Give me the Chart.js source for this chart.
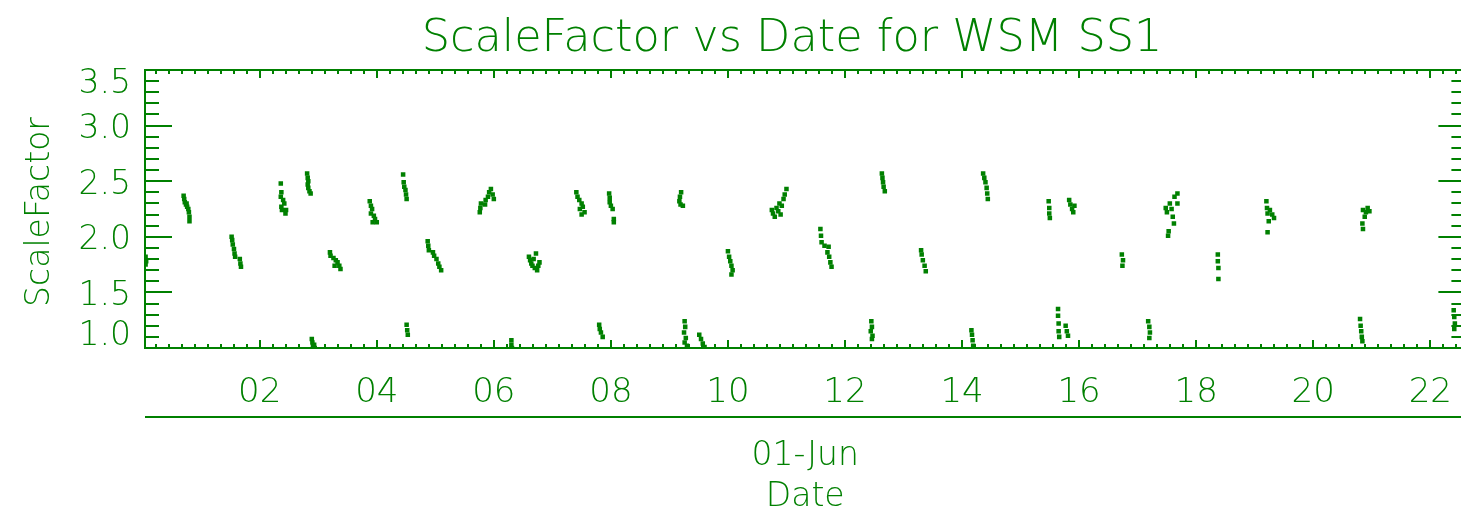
<!DOCTYPE html>
<html>
<head>
<meta charset="utf-8">
<title>ScaleFactor vs Date for WSM SS1</title>
<script src="https://cdn.jsdelivr.net/npm/chart.js@4.4.1/dist/chart.umd.min.js"></script>
<style>
  html, body { margin: 0; padding: 0; background: #ffffff; overflow: hidden; }
  #wrap { width: 1461px; height: 515px; overflow: hidden; position: relative; }
  canvas { display: block; }
</style>
</head>
<body>
<div id="wrap"><canvas id="chart" width="1469" height="515"></canvas></div>
<script>
// Hours of 01-Jun for each sample, one line per pass
const sampleHours = [
    0.05, 0.06, 0.05,
    0.70, 0.71, 0.72, 0.74, 0.75, 0.76, 0.78, 0.79, 0.80, 0.80,
    1.52, 1.53, 1.54, 1.56, 1.57, 1.58, 1.66, 1.67, 1.68,
    2.36, 2.37, 2.36, 2.40, 2.42, 2.37, 2.38, 2.45, 2.44,
    2.81, 2.82, 2.83, 2.82, 2.83, 2.85, 2.87,
    2.89, 2.90, 2.93, 2.91, 2.94,
    3.20, 3.21, 3.26, 3.30, 3.33, 3.36, 3.38, 3.28,
    3.88, 3.90, 3.92, 3.90, 3.95, 3.97, 3.93, 4.00,
    4.45, 4.46, 4.47, 4.49, 4.50, 4.51,
    4.51, 4.52, 4.53,
    4.87, 4.88, 4.89, 4.96, 4.98, 5.02, 5.05, 5.07, 5.10,
    5.76, 5.77, 5.78, 5.85, 5.86, 5.90, 5.92, 5.95, 5.98, 6.00,
    6.30, 6.30, 6.31,
    6.60, 6.62, 6.64, 6.66, 6.70, 6.74, 6.76, 6.78, 6.68, 6.72,
    7.41, 7.43, 7.46, 7.50, 7.52, 7.47, 7.55, 7.50,
    7.80, 7.81, 7.83, 7.86,
    7.97, 7.98, 7.98, 8.00, 8.03, 8.05, 8.05,
    9.20, 9.18, 9.17, 9.19, 9.23,
    9.26, 9.27, 9.25, 9.28, 9.26, 9.30,
    9.51, 9.54, 9.57, 9.60,
    10.00, 10.02, 10.04, 10.06, 10.08, 10.06,
    10.75, 10.77, 10.80, 10.83, 10.86, 10.88, 10.90, 10.92, 10.95, 10.97, 11.00,
    11.58, 11.59, 11.60, 11.65, 11.72, 11.70, 11.73, 11.75, 11.77,
    12.45, 12.46, 12.44, 12.47, 12.46,
    12.63, 12.64, 12.65, 12.66, 12.68,
    13.30, 13.31, 13.33, 13.36, 13.38,
    14.16, 14.17, 14.18, 14.19,
    14.36, 14.38, 14.40, 14.42, 14.43, 14.44,
    15.48, 15.49, 15.49, 15.50,
    15.64, 15.64, 15.65, 15.65, 15.66,
    15.77, 15.79, 15.81,
    15.83, 15.85, 15.88, 15.90, 15.92,
    16.73, 16.75, 16.74,
    17.18, 17.20, 17.21, 17.20,
    17.48, 17.50, 17.52, 17.53, 17.55, 17.58, 17.60, 17.62, 17.63, 17.68, 17.68,
    18.37, 18.37, 18.38, 18.38,
    19.20, 19.21, 19.22, 19.22, 19.24, 19.26, 19.30, 19.33,
    20.80, 20.81, 20.82, 20.83, 20.84,
    20.84, 20.85, 20.85, 20.88, 20.90, 20.93, 20.96,
    22.40, 22.41, 22.42, 22.41
];

const scaleFactor = [
    1.82, 1.78, 1.75,
    2.37, 2.34, 2.31, 2.29, 2.30, 2.27, 2.25, 2.22, 2.18, 2.14,
    2.00, 1.97, 1.93, 1.89, 1.85, 1.82, 1.80, 1.76, 1.73,
    2.48, 2.40, 2.36, 2.33, 2.30, 2.27, 2.24, 2.24, 2.21,
    2.57, 2.53, 2.50, 2.47, 2.44, 2.41, 2.39,
    1.08, 1.05, 1.03, 1.01, 1.00,
    1.86, 1.83, 1.81, 1.79, 1.77, 1.74, 1.71, 1.74,
    2.32, 2.28, 2.25, 2.21, 2.19, 2.16, 2.13, 2.13,
    2.56, 2.49, 2.45, 2.42, 2.38, 2.34,
    1.21, 1.16, 1.12,
    1.96, 1.92, 1.88, 1.86, 1.83, 1.80, 1.76, 1.73, 1.70,
    2.22, 2.26, 2.30, 2.29, 2.33, 2.36, 2.40, 2.43, 2.38, 2.34,
    1.07, 1.03, 1.00,
    1.82, 1.79, 1.76, 1.74, 1.72, 1.70, 1.74, 1.77, 1.80, 1.85,
    2.40, 2.36, 2.33, 2.30, 2.27, 2.25, 2.22, 2.20,
    1.21, 1.17, 1.14, 1.10,
    2.39, 2.35, 2.31, 2.28, 2.25, 2.16, 2.13,
    2.40, 2.36, 2.32, 2.29, 2.28,
    1.24, 1.19, 1.14, 1.09, 1.05, 1.02,
    1.12, 1.08, 1.04, 1.01,
    1.87, 1.82, 1.78, 1.74, 1.70, 1.66,
    2.24, 2.21, 2.18, 2.26, 2.23, 2.30, 2.20, 2.28, 2.34, 2.38, 2.43,
    2.07, 2.01, 1.95, 1.92, 1.91, 1.86, 1.82, 1.77, 1.73,
    1.24, 1.19, 1.15, 1.11, 1.08,
    2.57, 2.53, 2.49, 2.45, 2.41,
    1.88, 1.84, 1.79, 1.74, 1.69,
    1.16, 1.12, 1.07, 1.02,
    2.57, 2.53, 2.49, 2.44, 2.39, 2.34,
    2.32, 2.26, 2.21, 2.17,
    1.35, 1.29, 1.22, 1.15, 1.10,
    1.20, 1.15, 1.11,
    2.33, 2.29, 2.25, 2.22, 2.28,
    1.84, 1.79, 1.74,
    1.24, 1.19, 1.14, 1.09,
    2.26, 2.22, 2.01, 2.05, 2.30, 2.25, 2.18, 2.12, 2.36, 2.39, 2.30,
    1.84, 1.78, 1.72, 1.62,
    2.32, 2.26, 2.21, 2.04, 2.14, 2.24, 2.20, 2.17,
    1.26, 1.20, 1.15, 1.10, 1.06,
    2.12, 2.07, 2.24, 2.18, 2.22, 2.26, 2.23,
    1.34, 1.28, 1.22, 1.17
];

const xTickValues = [2, 4, 6, 8, 10, 12, 14, 16, 18, 20, 22];
const xTickLabels = ['02', '04', '06', '08', '10', '12', '14', '16', '18', '20', '22'];
const yTickValues = [1.0, 1.5, 2.0, 2.5, 3.0, 3.5];
const yTickLabels = ['1.0', '1.5', '2.0', '2.5', '3.0', '3.5'];

const xMin = 0.04, xMax = 22.6;
const yMin = 1.0, yMax = 3.5;
const xMinorPerMajor = 9;
const yMinorStep = 0.1;

const GREEN = '#008000';
const FONT = '"DejaVu Sans", sans-serif';
const WEIGHT = '200 ';

// IDL-style frame: inward ticks on all four sides, y labels and titles
const idlFrame = {
    id: 'idlFrame',
    afterDraw(chart) {
        const ctx = chart.ctx;
        const area = chart.chartArea;
        const xs = chart.scales.x;
        const ys = chart.scales.y;

        ctx.save();
        ctx.strokeStyle = GREEN;
        ctx.fillStyle = GREEN;
        ctx.lineWidth = 2;
        ctx.strokeRect(area.left, area.top, area.right - area.left, area.bottom - area.top);

        ctx.beginPath();
        // y ticks, left and right
        const nY = Math.round((yMax - yMin) / yMinorStep);
        for (let i = 0; i <= nY; i++) {
            const py = Math.round(ys.getPixelForValue(yMin + i * yMinorStep));
            const len = (i % 5 === 0) ? 27 : 14;
            ctx.moveTo(area.left, py);
            ctx.lineTo(area.left + len, py);
            ctx.moveTo(area.right, py);
            ctx.lineTo(area.right - len, py);
        }
        // x ticks, bottom and top
        const step = (xTickValues[1] - xTickValues[0]) / xMinorPerMajor;
        const first = xTickValues[0];
        const kStart = Math.ceil((xMin - first) / step);
        const kEnd = Math.floor((xMax - first) / step);
        for (let k = kStart; k <= kEnd; k++) {
            const px = Math.round(xs.getPixelForValue(first + k * step));
            const len = (k % xMinorPerMajor === 0) ? 8 : 4;
            ctx.moveTo(px, area.bottom);
            ctx.lineTo(px, area.bottom - len);
            ctx.moveTo(px, area.top);
            ctx.lineTo(px, area.top + len);
        }
        ctx.stroke();

        // y tick labels
        ctx.font = WEIGHT + '33px ' + FONT;
        ctx.textAlign = 'right';
        ctx.textBaseline = 'middle';
        yTickValues.forEach((v, i) => {
            let py = ys.getPixelForValue(v) + 4;
            py = Math.max(area.top + 14, Math.min(area.bottom - 12, py));
            ctx.fillText(yTickLabels[i], 131, py);
        });

        // second date level
        ctx.beginPath();
        ctx.moveTo(area.left, 417);
        ctx.lineTo(area.right, 417);
        ctx.stroke();
        const midX = (area.left + area.right) / 2;
        ctx.textAlign = 'center';
        ctx.fillText('01-Jun', midX, 456);
        ctx.fillText('Date', midX, 497);

        // title
        ctx.font = WEIGHT + '44.6px ' + FONT;
        ctx.fillText('ScaleFactor vs Date for WSM SS1', 792, 39);

        // y axis title
        ctx.save();
        ctx.translate(40, 212);
        ctx.rotate(-Math.PI / 2);
        ctx.font = WEIGHT + '33px ' + FONT;
        ctx.fillText('ScaleFactor', 0, 0);
        ctx.restore();

        ctx.restore();
    }
};

const points = sampleHours.map((h, i) => ({ x: h, y: scaleFactor[i] }));

new Chart(document.getElementById('chart'), {
    type: 'scatter',
    data: {
        datasets: [{
            label: 'ScaleFactor',
            data: points,
            pointStyle: 'rect',
            pointRadius: 3.2,
            pointBorderWidth: 0,
            pointBackgroundColor: GREEN,
            pointHoverRadius: 3.2
        }]
    },
    options: {
        responsive: false,
        animation: false,
        devicePixelRatio: 1,
        layout: { padding: { top: 70, right: 1, left: 0, bottom: 0 } },
        plugins: {
            legend: { display: false },
            title: { display: false },
            tooltip: { enabled: false }
        },
        scales: {
            x: {
                type: 'linear',
                min: xMin,
                max: xMax,
                grid: { display: false },
                border: { display: false },
                afterBuildTicks: (scale) => {
                    scale.ticks = xTickValues.map(v => ({ value: v }));
                },
                afterFit: (scale) => { scale.height = 167; },
                ticks: {
                    color: GREEN,
                    padding: 17,
                    maxRotation: 0,
                    autoSkip: false,
                    font: { family: FONT, size: 34, weight: '200' },
                    callback: (value, index) => xTickLabels[index]
                }
            },
            y: {
                type: 'linear',
                min: yMin,
                max: yMax,
                grid: { display: false },
                border: { display: false },
                afterFit: (scale) => { scale.width = 145; },
                ticks: { display: false }
            }
        }
    },
    plugins: [idlFrame]
});
</script>
</body>
</html>
